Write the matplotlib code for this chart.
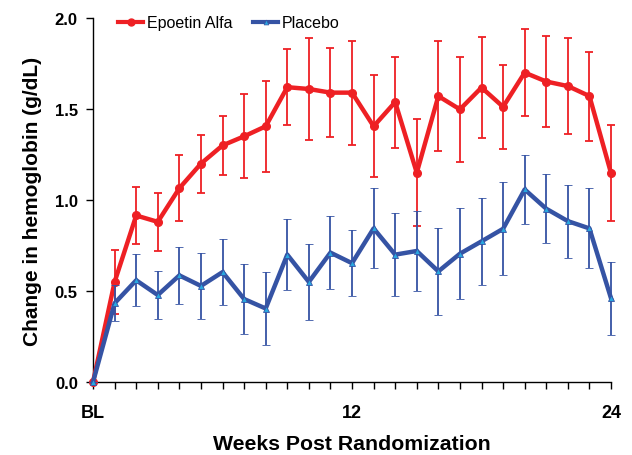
import numpy as np
import matplotlib.pyplot as plt
from matplotlib.lines import Line2D

plt.rcParams['font.family'] = ['Liberation Sans', 'DejaVu Sans']

weeks = np.arange(25)
tick_labels = {0: 'BL', 12: '12', 24: '24'}

epoetin = [0.0, 0.55, 0.915, 0.88, 1.065, 1.20, 1.30, 1.35, 1.405, 1.62, 1.61, 1.59, 1.59,
           1.405, 1.538, 1.15, 1.571, 1.498, 1.618, 1.512, 1.70, 1.651, 1.626, 1.571, 1.148]
epoetin_err = [0.0, 0.175, 0.157, 0.16, 0.18, 0.16, 0.16, 0.23, 0.25, 0.21, 0.28, 0.245, 0.285,
               0.28, 0.25, 0.295, 0.30, 0.29, 0.275, 0.23, 0.24, 0.25, 0.265, 0.245, 0.265]

placebo = [0.0, 0.433, 0.559, 0.478, 0.586, 0.528, 0.604, 0.456, 0.404, 0.70, 0.55, 0.711, 0.653,
           0.844, 0.70, 0.72, 0.608, 0.705, 0.773, 0.842, 1.058, 0.952, 0.884, 0.844, 0.46]
placebo_err = [0.0, 0.10, 0.143, 0.13, 0.158, 0.18, 0.18, 0.19, 0.20, 0.195, 0.21, 0.20, 0.18,
               0.22, 0.23, 0.22, 0.24, 0.25, 0.24, 0.255, 0.19, 0.19, 0.20, 0.22, 0.20]

red = '#ee2024'
blue = '#3553a4'
light_blue = '#29a8e0'

fig = plt.figure(figsize=(6.32, 4.56), dpi=100)
ax = fig.add_axes([0.1472, 0.160, 0.8196, 0.7983])

ax.errorbar(weeks, epoetin, yerr=epoetin_err, color=red, ecolor=red, lw=3.2,
            elinewidth=1.3, capsize=2.6, capthick=1.3, marker='o', ms=5.5,
            mfc=red, mec=red, clip_on=False, zorder=3)
ax.errorbar(weeks, placebo, yerr=placebo_err, color=blue, ecolor=blue, lw=3.2,
            elinewidth=1.3, capsize=2.6, capthick=1.3, marker='^', ms=4,
            mfc=light_blue, mec=blue, mew=0.6, clip_on=False, zorder=4)

ax.set_xlim(0, 24)
ax.set_ylim(0, 2.0)
ax.set_xticks(weeks)
ax.set_xticklabels([tick_labels.get(w, '') for w in weeks], fontweight='bold', fontsize=13)
ax.set_yticks([0, 0.5, 1.0, 1.5, 2.0])
ax.set_yticklabels(['0.0', '0.5', '1.0', '1.5', '2.0'], fontweight='bold', fontsize=12)
ax.tick_params(axis='x', direction='out', length=5, width=1, pad=11)
ax.tick_params(axis='y', direction='out', length=5, width=1, pad=6)

for s in ['top', 'right']:
    ax.spines[s].set_visible(False)
for s in ['left', 'bottom']:
    ax.spines[s].set_linewidth(1)

ax.set_xlabel('Weeks Post Randomization', fontweight='bold', fontsize=15.3, labelpad=9)
ax.set_ylabel('Change in hemoglobin (g/dL)', fontweight='bold', fontsize=15, labelpad=9)

handles = [Line2D([], [], color=red, lw=3, marker='o', ms=5, mfc=red, mec=red),
           Line2D([], [], color=blue, lw=3, marker='^', ms=3.5, mfc=light_blue, mec=blue, mew=0.5)]
ax.legend(handles, ['Epoetin Alfa', 'Placebo'], loc='upper left', ncol=2, frameon=False,
          fontsize=11.5, bbox_to_anchor=(0.02, 1.047), handlelength=1.6, handletextpad=0.2,
          columnspacing=1.3)

fig.savefig('out.png', dpi=100)
